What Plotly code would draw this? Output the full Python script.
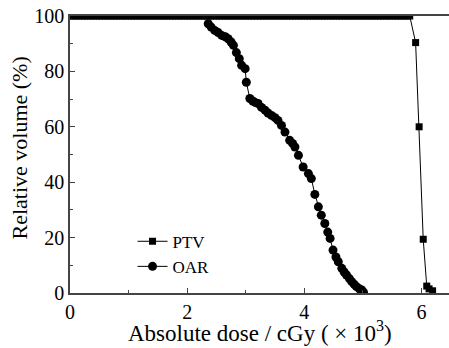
import plotly.graph_objects as go

ptv_flat_x = [i * 0.05 for i in range(0, 117)]
ptv_x = ptv_flat_x + [5.90, 5.96, 6.03, 6.09, 6.13, 6.19]
ptv_y = [100] * len(ptv_flat_x) + [90.4, 60.0, 19.4, 2.5, 1.5, 0.8]

oar_x = [2.36, 2.41, 2.47, 2.53, 2.59, 2.65, 2.70, 2.75, 2.79, 2.84, 2.89, 2.93, 2.99, 3.01, 3.07,
         3.12, 3.16, 3.21, 3.27, 3.33, 3.38, 3.44, 3.50, 3.55, 3.61, 3.67, 3.75, 3.80, 3.84, 3.90,
         3.98, 4.07, 4.12, 4.18, 4.24, 4.29, 4.35, 4.40, 4.44, 4.49, 4.54, 4.58, 4.64, 4.68, 4.72,
         4.77, 4.81, 4.85, 4.89, 4.94, 4.98, 5.01]
oar_y = [97.2, 96.0, 94.8, 94.0, 93.0, 92.5, 91.8, 90.6, 89.4, 86.8, 84.6, 82.2, 81.0, 76.1, 70.2,
         69.3, 68.8, 68.4, 67.0, 66.0, 65.0, 64.1, 63.3, 62.3, 60.5, 58.1, 55.1, 54.0, 52.7, 49.7,
         45.5, 43.1, 41.3, 35.6, 31.1, 28.1, 25.1, 22.0, 19.7, 15.5, 13.0, 11.3, 8.9, 7.6, 6.5,
         5.2, 4.1, 3.2, 2.3, 1.5, 1.1, 0.3]

x_ticks = [0, 2, 4, 6]
y_ticks = [0, 20, 40, 60, 80, 100]

font = "Liberation Serif"

fig = go.Figure()
fig.add_trace(go.Scatter(
    x=ptv_x, y=ptv_y, name="PTV", mode="lines+markers",
    line=dict(color="black", width=1),
    marker=dict(symbol="square", size=7, color="black"),
))
fig.add_trace(go.Scatter(
    x=oar_x, y=oar_y, name="OAR", mode="lines+markers",
    line=dict(color="black", width=1),
    marker=dict(symbol="circle", size=9, color="black"),
))

fig.update_layout(
    width=449, height=348,
    margin=dict(l=70, r=0, t=16, b=55, autoexpand=False),
    plot_bgcolor="white", paper_bgcolor="white",
    font=dict(family=font, color="black", size=20),
    hovermode=False,
    showlegend=True,
    legend=dict(x=0.165, y=0.14, xanchor="left", yanchor="middle",
                font=dict(family=font, size=17, color="black"),
                bgcolor="rgba(0,0,0,0)", tracegroupgap=0),
    xaxis=dict(range=[0, 6.47], tickvals=x_ticks, mirror=True,
               showgrid=False, zeroline=False, showline=True, linecolor="#444", linewidth=1.5,
               ticks="inside", ticklen=5, tickwidth=1, tickcolor="#444",
               tickfont=dict(family=font, size=20, color="black"),
               ticklabeloverflow="allow",
               minor=dict(dtick=1, ticks="inside", ticklen=3, tickcolor="#444")),
    yaxis=dict(range=[0, 100], tickvals=y_ticks,
               showgrid=False, zeroline=False, showline=True, linecolor="#444", linewidth=1.5,
               ticks="inside", ticklen=5, tickwidth=1, tickcolor="#444",
               tickfont=dict(family=font, size=20, color="black"),
               ticklabeloverflow="allow",
               minor=dict(dtick=10, ticks="inside", ticklen=3, tickcolor="#444")),
    annotations=[
        dict(text="Absolute dose / cGy ( × 10<sup>3</sup>)", xref="paper", yref="paper",
             x=0.5, y=0, xanchor="center", yanchor="middle", yshift=-38, showarrow=False,
             font=dict(family=font, size=23, color="black")),
        dict(text="Relative volume (%)", xref="paper", yref="paper", textangle=-90,
             x=0, y=0.5, xanchor="center", yanchor="middle", xshift=-51, yshift=6, showarrow=False,
             font=dict(family=font, size=22, color="black")),
    ],
)

fig.write_html("out.html", config={"displayModeBar": False},
               post_script="document.body.style.margin='0';")
